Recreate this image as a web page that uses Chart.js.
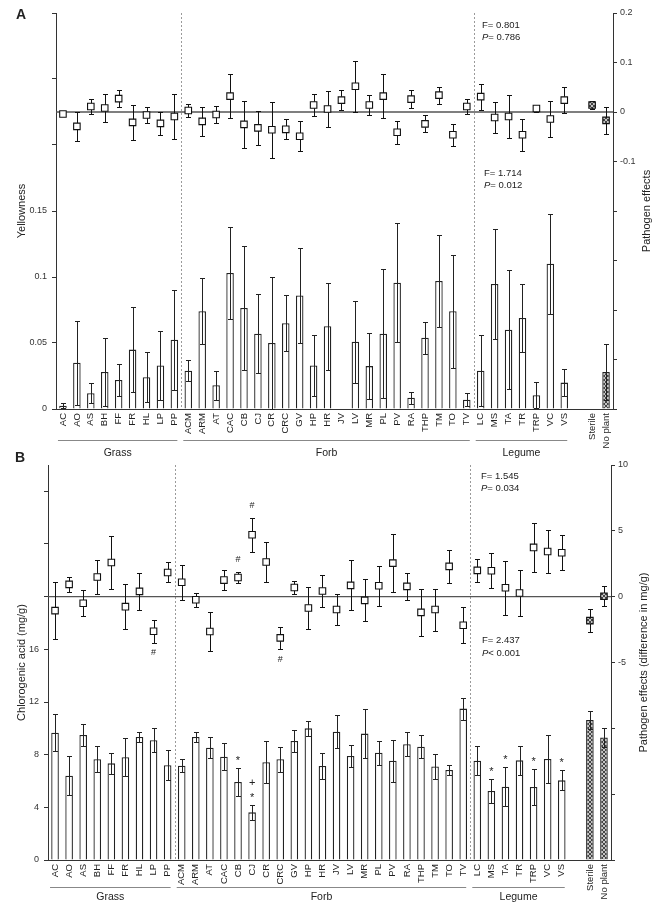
<!DOCTYPE html>
<html>
<head>
<meta charset="utf-8">
<script src="https://cdn.jsdelivr.net/npm/chart.js@4.4.0/dist/chart.umd.min.js"></script>
<style>
  body { margin: 0; background: #fff; }
  #wrap { position: relative; width: 667px; height: 906px; }
  canvas { position: absolute; left: 0; }
</style>
</head>
<body>
<div id="wrap">
  <canvas id="chartA" width="667" height="462" style="top:0px"></canvas>
  <canvas id="chartB" width="667" height="458" style="top:448px"></canvas>
</div>
<script>
const FONT = "'Liberation Sans', Arial, sans-serif";

const categories = ['AC','AO','AS','BH','FF','FR','HL','LP','PP',
	'ACM','ARM','AT','CAC','CB','CJ','CR','CRC','GV','HP','HR','JV','LV','MR','PL','PV','RA','THP','TM','TO','TV',
	'LC','MS','TA','TR','TRP','VC','VS','','Sterile','No plant'];
const groups = [['Grass', 0, 8], ['Forb', 9, 29], ['Legume', 30, 36]];
const dividers = [8, 29];
const hatched = [38, 39];

// A: yellowness
const barA = [0.0025,0.035,0.012,0.028,0.022,0.045,0.024,0.033,0.0525,
	0.029,0.074,0.018,0.103,0.0766,0.057,0.050,0.065,0.086,0.033,0.0627,null,0.051,0.0325,0.057,0.0957,0.0086,0.054,0.097,0.074,0.007,
	0.029,0.0947,0.060,0.069,0.0104,0.110,0.020,null,null,0.028];
const barErrA = [0.002,0.032,0.0076,0.026,0.012,0.032,0.019,0.026,0.038,
	0.008,0.025,0.011,0.035,0.047,0.030,0.050,0.021,0.036,0.023,0.033,null,0.031,0.025,0.049,0.045,0.0046,0.012,0.035,0.043,0.005,
	0.027,0.042,0.045,0.026,0.010,0.038,0.010,null,null,0.021];
const ptA = [-0.004,-0.029,0.011,0.008,0.027,-0.021,-0.006,-0.023,-0.009,
	0.003,-0.019,-0.005,0.032,-0.025,-0.032,-0.036,-0.035,-0.049,0.014,0.006,0.024,0.052,0.014,0.032,-0.041,0.026,-0.024,0.034,-0.046,0.011,
	0.031,-0.011,-0.009,-0.046,0.007,-0.014,0.024,null,0.014,-0.017];
const ptErrA = [0.003,0.03,0.015,0.029,0.017,0.035,0.017,0.024,0.045,
	0.014,0.03,0.018,0.045,0.048,0.034,0.056,0.02,0.03,0.022,0.036,0.02,0.052,0.021,0.044,0.023,0.018,0.017,0.017,0.022,0.016,
	0.026,0.032,0.044,0.032,0.006,0.036,0.027,null,0.008,0.027];
const yTicksA = [0,0.05,0.1,0.15,0.2,0.25,0.3];
const yLabelsA = ['0','0.05','0.1','0.15','','',''];
const y2TicksA = [-0.6,-0.5,-0.4,-0.3,-0.2,-0.1,0,0.1,0.2];
const y2LabelsA = ['','','','','','-0.1','0','0.1','0.2'];

// B: chlorogenic acid
const barB = [9.67,6.4,9.5,7.65,7.34,7.8,9.34,9.1,7.2,
	7.16,9.34,8.53,7.85,5.92,3.62,7.42,7.65,9.04,10.0,7.14,9.75,7.9,9.6,8.15,7.54,8.8,8.6,7.1,6.84,11.5,
	7.54,5.24,5.57,7.57,5.54,7.67,6.05,null,10.63,9.3];
const barErrB = [1.4,1.5,0.85,1.0,0.8,1.45,0.35,0.9,1.15,
	0.5,0.4,0.8,1.0,1.06,0.56,1.6,0.94,0.84,0.56,1.0,1.24,0.8,1.87,0.9,1.6,0.9,0.86,0.96,0.35,0.84,
	1.1,0.9,1.5,1.1,1.37,1.8,0.76,null,0.66,0.7];
const ptB = [-1.06,0.93,-0.5,1.49,2.6,-0.76,0.4,-2.63,1.84,
	1.09,-0.23,-2.65,1.26,1.46,4.7,2.63,-3.13,0.7,-0.86,0.43,-0.98,0.86,-0.28,0.83,2.55,0.78,-1.19,-0.98,2.3,-2.17,
	2.0,1.97,0.68,0.28,3.74,3.43,3.33,null,-1.82,0.03];
const ptErrB = [2.15,0.55,0.97,1.32,2.0,1.7,1.4,0.88,0.76,
	1.33,0.54,1.5,0.76,0.43,1.29,1.55,0.86,0.48,1.6,1.24,1.2,1.9,1.6,1.53,2.2,1.02,1.77,1.6,1.25,1.38,
	0.88,1.34,2.05,1.78,1.83,1.63,1.34,null,0.86,0.77];
const barMarksB = {13: '*', 14: '*+', 31: '*', 32: '*', 34: '*', 36: '*'};
const ptMarksB = {7: '#', 13: '#', 14: '#', 16: '#'};
const yTicksB = [0,4,8,12,16,20,24,28];
const yLabelsB = ['0','4','8','12','16','','',''];
const y2TicksB = [-20,-15,-10,-5,0,5,10];
const y2LabelsB = ['','','','-5','0','5','10'];

function hatch() {
	const c = document.createElement('canvas');
	c.width = 4; c.height = 4;
	const g = c.getContext('2d');
	g.fillStyle = '#c4c4c4';
	g.fillRect(0, 0, 4, 4);
	g.fillStyle = '#444';
	for (let i = 0; i < 4; i++) {
		g.fillRect(i, i, 1, 1);
		g.fillRect(3 - i, i, 1, 1);
	}
	return g.createPattern(c, 'repeat');
}
const pattern = hatch();

function drawErr(chart, vals, errs, axis, cap, color) {
	const ctx = chart.ctx, x = chart.scales.x, y = chart.scales[axis];
	ctx.save();
	ctx.strokeStyle = color;
	ctx.lineWidth = 1;
	vals.forEach((v, i) => {
		if (v == null || errs[i] == null) return;
		const px = Math.round(x.getPixelForValue(i)) + 0.5;
		const t = Math.round(y.getPixelForValue(v + errs[i])) + 0.5;
		const b = Math.round(y.getPixelForValue(v - errs[i])) + 0.5;
		ctx.beginPath();
		ctx.moveTo(px, t); ctx.lineTo(px, b);
		ctx.moveTo(px - cap, t); ctx.lineTo(px + cap, t);
		ctx.moveTo(px - cap, b); ctx.lineTo(px + cap, b);
		ctx.stroke();
	});
	ctx.restore();
}

function vText(ctx, txt, x, y) {
	ctx.save();
	ctx.translate(x, y);
	ctx.rotate(-Math.PI / 2);
	ctx.textAlign = 'center';
	ctx.textBaseline = 'middle';
	ctx.fillText(txt, 0, 0);
	ctx.restore();
}

function statText(ctx, x, y, sym, rest, italic) {
	ctx.textAlign = 'left';
	ctx.textBaseline = 'middle';
	ctx.font = (italic ? 'italic ' : '') + '9.5px ' + FONT;
	ctx.fillText(sym, x, y);
	const w = ctx.measureText(sym).width;
	ctx.font = '9.5px ' + FONT;
	ctx.fillText(rest, x + w, y);
}

function deco(p) {
	return {
		id: 'deco',
		beforeDatasetsDraw(chart) {
			const ctx = chart.ctx, x = chart.scales.x, a = chart.chartArea;
			ctx.save();
			ctx.strokeStyle = '#9a9a9a';
			ctx.lineWidth = 1;
			ctx.setLineDash([2, 2]);
			dividers.forEach(i => {
				const px = Math.round((x.getPixelForValue(i) + x.getPixelForValue(i + 1)) / 2) + 0.5;
				ctx.beginPath(); ctx.moveTo(px, a.top); ctx.lineTo(px, a.bottom); ctx.stroke();
			});
			ctx.setLineDash([]);
			const y0 = chart.scales.y2.getPixelForValue(0);
			ctx.strokeStyle = '#555';
			ctx.lineWidth = 1.4;
			ctx.beginPath(); ctx.moveTo(a.left, y0); ctx.lineTo(a.right, y0); ctx.stroke();
			ctx.restore();
		},
		afterDatasetDraw(chart, args) {
			if (args.index !== 0) return;
			drawErr(chart, p.bar, p.barErr, 'y', 2.5, '#222');
			const ctx = chart.ctx, x = chart.scales.x, y = chart.scales.y;
			ctx.save();
			ctx.fillStyle = '#222';
			ctx.font = '11px ' + FONT;
			ctx.textAlign = 'center';
			ctx.textBaseline = 'middle';
			Object.keys(p.barMarks).forEach(k => {
				const i = Number(k);
				const top = y.getPixelForValue(p.bar[i] + p.barErr[i]);
				p.barMarks[k].split('').forEach((m, j) => {
					ctx.fillText(m, x.getPixelForValue(i), top - 10 - j * 12 + (m === '*' ? 3 : 0));
				});
			});
			ctx.restore();
		},
		beforeDatasetDraw(chart, args) {
			if (args.index !== 1) return;
			drawErr(chart, p.pt, p.ptErr, 'y2', 2.5, '#111');
		},
		afterDraw(chart) {
			const ctx = chart.ctx, x = chart.scales.x, y2 = chart.scales.y2, a = chart.chartArea;
			const mid = (a.top + a.bottom) / 2;
			ctx.save();
			ctx.fillStyle = '#222';
			ctx.font = '11px ' + FONT;
			vText(ctx, p.yTitle, 22, mid);
			vText(ctx, p.y2Title, p.y2TitleX, mid);
			// # marks on the pathogen effects
			ctx.font = '9px ' + FONT;
			ctx.textAlign = 'center';
			ctx.textBaseline = 'middle';
			Object.keys(p.ptMarks).forEach(k => {
				const i = Number(k), v = p.pt[i], e = p.ptErr[i];
				const py = v > 0 ? y2.getPixelForValue(v + e) - 12 : y2.getPixelForValue(v - e) + 10;
				ctx.fillText(p.ptMarks[k], x.getPixelForValue(i), py);
			});
			// groups
			ctx.strokeStyle = '#888';
			ctx.lineWidth = 1;
			ctx.font = '10.5px ' + FONT;
			groups.forEach(g => {
				const x1 = x.getPixelForValue(g[1]) - 5, x2 = x.getPixelForValue(g[2]) + 3;
				ctx.beginPath(); ctx.moveTo(x1, p.groupLineY + 0.5); ctx.lineTo(x2, p.groupLineY + 0.5); ctx.stroke();
				ctx.fillText(g[0], (x1 + x2) / 2, p.groupTextY);
			});
			// stats
			p.stats.forEach(s => {
				statText(ctx, s[0], s[1], 'F', '= ' + s[3], false);
				statText(ctx, s[0], s[2], 'P', s[4], true);
			});
			ctx.font = 'bold 14px ' + FONT;
			ctx.textAlign = 'left';
			ctx.fillText(p.letter, p.letterX, p.letterY);
			ctx.restore();
		}
	};
}

function makeConfig(p) {
	const tickFont = {family: FONT, size: 9};
	return {
		type: 'bar',
		data: {
			labels: categories,
			datasets: [{
				label: 'bars',
				data: p.bar,
				yAxisID: 'y',
				order: 2,
				backgroundColor: categories.map((c, i) => hatched.includes(i) ? pattern : '#fff'),
				borderColor: '#222',
				borderWidth: 1.3,
				categoryPercentage: 1,
				barPercentage: 0.54
			}, {
				type: 'line',
				label: 'effects',
				data: p.pt,
				yAxisID: 'y2',
				order: 1,
				showLine: false,
				pointStyle: 'rect',
				pointRadius: 4.6,
				pointBorderWidth: 1.1,
				pointBorderColor: '#111',
				pointBackgroundColor: categories.map((c, i) => hatched.includes(i) ? pattern : '#fff')
			}]
		},
		options: {
			responsive: false,
			animation: false,
			layout: {padding: {top: p.padTop, left: 0, right: 0, bottom: 0}},
			plugins: {legend: {display: false}, tooltip: {enabled: false}},
			scales: {
				x: {
					type: 'category',
					grid: {display: false, drawTicks: false},
					border: {display: true, color: '#333', width: 1},
					ticks: {autoSkip: false, minRotation: 90, maxRotation: 90, padding: 4, color: '#222', font: {family: FONT, size: 9.5}},
					afterFit: s => { s.height = p.xHeight; }
				},
				y: {
					position: 'left',
					min: p.yTicks[0],
					max: p.yMax,
					afterBuildTicks: s => { s.ticks = p.yTicks.map(v => ({value: v})); },
					ticks: {padding: 5, color: '#333', font: tickFont, callback: (v, i) => p.yLabels[i]},
					grid: {drawOnChartArea: false, tickLength: 4, color: '#333'},
					border: {color: '#333', width: 1},
					afterFit: s => { s.width = p.yWidth; }
				},
				y2: {
					position: 'right',
					min: p.y2Ticks[0],
					max: p.y2Ticks[p.y2Ticks.length - 1],
					afterBuildTicks: s => { s.ticks = p.y2Ticks.map(v => ({value: v})); },
					ticks: {padding: 3, color: '#333', font: tickFont, callback: (v, i) => p.y2Labels[i]},
					grid: {drawOnChartArea: false, tickLength: 4, color: '#333'},
					border: {color: '#333', width: 1},
					afterFit: s => { s.width = p.y2Width; }
				}
			}
		},
		plugins: [deco(p)]
	};
}

const panelA = {
	bar: barA, barErr: barErrA, pt: ptA, ptErr: ptErrA, barMarks: {}, ptMarks: {},
	yTicks: yTicksA, yLabels: yLabelsA, yMax: 0.3, y2Ticks: y2TicksA, y2Labels: y2LabelsA,
	yTitle: 'Yellowness', y2Title: 'Pathogen effects', y2TitleX: 647,
	padTop: 13, xHeight: 53, yWidth: 56, y2Width: 54,
	groupLineY: 440, groupTextY: 453,
	stats: [[482, 25, 37, '0.801', '= 0.786'], [484, 173, 185, '1.714', '= 0.012']],
	letter: 'A', letterX: 16, letterY: 15
};

const panelB = {
	bar: barB, barErr: barErrB, pt: ptB, ptErr: ptErrB, barMarks: barMarksB, ptMarks: ptMarksB,
	yTicks: yTicksB, yLabels: yLabelsB, yMax: 30, y2Ticks: y2TicksB, y2Labels: y2LabelsB,
	yTitle: 'Chlorogenic acid (mg/g)', y2Title: 'Pathogen effects (difference in mg/g)', y2TitleX: 644,
	padTop: 17, xHeight: 46, yWidth: 48, y2Width: 56,
	groupLineY: 439, groupTextY: 449,
	stats: [[481, 28, 40, '1.545', '= 0.034'], [482, 192, 205, '2.437', '< 0.001']],
	letter: 'B', letterX: 15, letterY: 10
};

const chartA = new Chart(document.getElementById('chartA'), makeConfig(panelA));
const chartB = new Chart(document.getElementById('chartB'), makeConfig(panelB));
</script>
</body>
</html>
